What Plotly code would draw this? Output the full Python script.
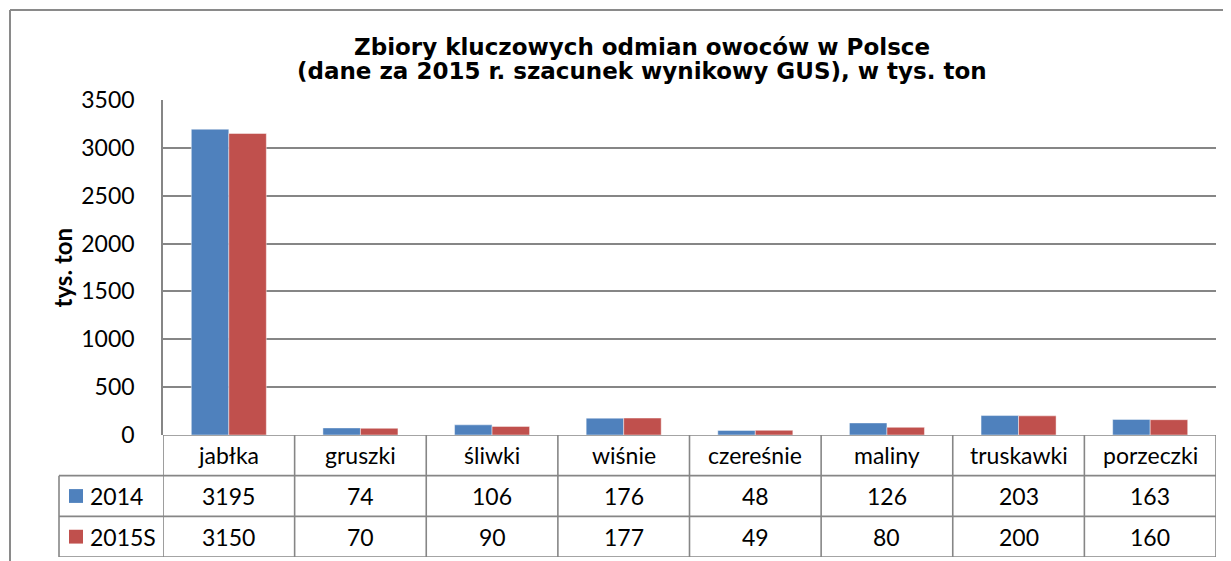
import plotly.graph_objects as go

categories = ["jabłka", "gruszki", "śliwki", "wiśnie", "czereśnie", "maliny", "truskawki", "porzeczki"]
series_names = ["2014", "2015S"]
values_2014 = [3195, 74, 106, 176, 48, 126, 203, 163]
values_2015 = [3150, 70, 90, 177, 49, 80, 200, 160]
colors = ["#4F81BD", "#C0504D"]
y_ticks = [0, 500, 1000, 1500, 2000, 2500, 3000, 3500]
title_lines = ["Zbiory kluczowych odmian owoców w Polsce",
               "(dane za 2015 r. szacunek wynikowy GUS), w tys. ton"]

OFF = 8  # page body margin
W, H = 1231 - OFF, 561 - OFF
def px(x): return (x - OFF) / W
def py(y): return (H - (y - OFF)) / H

plot_l, plot_r, plot_t, plot_b = 163, 1216, 100, 435
table_b = 557
legend_l = 59
grid_col = "#868686"
num_font = dict(family="Lato, Open Sans, sans-serif", size=23, color="#000000")

fig = go.Figure()
series_vals = [values_2014, values_2015]
for name, vals, col in zip(series_names, series_vals, colors):
    fig.add_trace(go.Bar(x=categories, y=vals, name=name,
                         marker=dict(color=col, line=dict(color="rgba(255,255,255,0.45)", width=1)),
                         showlegend=False, hoverinfo="x+y+name"))

shapes = []
annotations = []
n = len(categories)
line_style = dict(color=grid_col, width=1.6)
# vertical lines of table
for k in range(n + 1):
    shapes.append(dict(type="line", xref="x", yref="y2", x0=k - 0.5, x1=k - 0.5, y0=0, y1=3,
                       line=line_style))
# horizontal lines of table
shapes.append(dict(type="line", xref="paper", yref="y2", x0=px(plot_l), x1=px(plot_r), y0=0, y1=0,
                   line=line_style))
for r in [1, 2, 3]:
    shapes.append(dict(type="line", xref="paper", yref="y2", x0=px(legend_l), x1=px(plot_r), y0=r, y1=r,
                       line=line_style))
shapes.append(dict(type="line", xref="paper", yref="y2", x0=px(legend_l), x1=px(legend_l), y0=1, y1=3,
                   line=line_style))
# outer chart frame
shapes.append(dict(type="line", xref="paper", yref="paper", x0=px(10), x1=px(10), y0=0, y1=py(10),
                   line=dict(color="#8a8a8a", width=2)))
shapes.append(dict(type="line", xref="paper", yref="paper", x0=px(10), x1=1, y0=py(10), y1=py(10),
                   line=dict(color="#8a8a8a", width=2)))

# category labels
for c in categories:
    annotations.append(dict(x=c, y=0.5, xref="x", yref="y2", text=c, showarrow=False,
                            font=num_font, xanchor="center", yanchor="middle"))
# values + legend keys
for r, (name, vals, col) in enumerate(zip(series_names, series_vals, colors)):
    yc = r + 1.5
    for c, v in zip(categories, vals):
        annotations.append(dict(x=c, y=yc, xref="x", yref="y2", text=str(v), showarrow=False,
                                font=num_font, xanchor="center", yanchor="middle"))
    annotations.append(dict(x=px(88), y=yc, xref="paper", yref="y2", text=name, showarrow=False,
                            font=num_font, xanchor="left", yanchor="middle"))
    shapes.append(dict(type="rect", xref="paper", yref="y2", x0=px(69), x1=px(83),
                       y0=yc - 0.17, y1=yc + 0.17, fillcolor=col, line=dict(width=0)))

# y-axis title
annotations.append(dict(x=px(62), y=(py(plot_t) + py(plot_b)) / 2, xref="paper", yref="paper",
                        text="<b>tys. ton</b>", textangle=-90, showarrow=False,
                        font=dict(family="Lato, sans-serif", size=24, color="#000"),
                        xanchor="center", yanchor="middle"))

# chart title (two lines, tight spacing)
for line, yc in zip(title_lines, [47, 71]):
    annotations.append(dict(x=px(642), y=py(yc), xref="paper", yref="paper",
                            text="<b>" + line + "</b>", showarrow=False,
                            font=dict(family="DejaVu Sans, Verdana, sans-serif", size=23, color="#000"),
                            xanchor="center", yanchor="middle"))

fig.update_layout(
    width=W, height=H,
    margin=dict(l=0, r=0, t=0, b=0, pad=0, autoexpand=False),
    paper_bgcolor="white", plot_bgcolor="white",
    barmode="group", bargap=0.43, bargroupgap=0,
    xaxis=dict(domain=[px(plot_l), px(plot_r)], range=[-0.5, n - 0.5], showticklabels=False,
               showgrid=False, zeroline=False, showline=False, anchor="y", automargin=False),
    yaxis=dict(domain=[py(plot_b), py(plot_t)], range=[0, 3500], tickvals=y_ticks,
               showgrid=True, gridcolor=grid_col, gridwidth=1.6, zeroline=False,
               showline=True, linecolor=grid_col, linewidth=1.6, ticks="",
               ticklabelstandoff=22, tickfont=num_font, anchor="x", automargin=False),
    yaxis2=dict(domain=[py(table_b), py(plot_b)], range=[3, 0], visible=False, anchor="x",
                showgrid=False, zeroline=False, automargin=False),
    shapes=shapes, annotations=annotations,
)

fig.write_html("out.html")
